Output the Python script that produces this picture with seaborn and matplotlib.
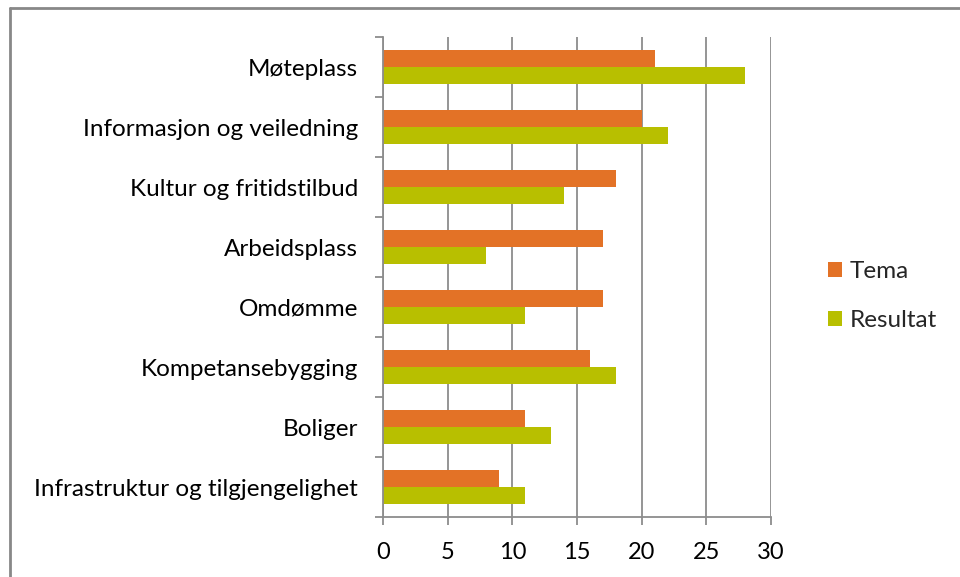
import pandas as pd
import seaborn as sns
import matplotlib.pyplot as plt
from matplotlib.lines import Line2D
from matplotlib.patches import Patch

categories = ["Møteplass", "Informasjon og veiledning", "Kultur og fritidstilbud",
              "Arbeidsplass", "Omdømme", "Kompetansebygging", "Boliger",
              "Infrastruktur og tilgjengelighet"]
tema = [21, 20, 18, 17, 17, 16, 11, 9]
resultat = [28, 22, 14, 8, 11, 18, 13, 11]
series = ["Tema", "Resultat"]
colors = ["#E37226", "#B8BF00"]

df = pd.DataFrame({
    "kategori": categories * 2,
    "verdi": tema + resultat,
    "serie": ["Tema"] * len(categories) + ["Resultat"] * len(categories),
})

sns.set_style("white")
plt.rcParams['font.family'] = ['Lato', 'DejaVu Sans']

fig = plt.figure(figsize=(9.6, 5.77), dpi=100)
ax = fig.add_axes([383 / 960, 1 - 517 / 577, (771 - 383) / 960, (517 - 37) / 577])

sns.barplot(data=df, x="verdi", y="kategori", hue="serie", orient="h",
            palette=colors, width=0.57, gap=0, order=categories,
            hue_order=series, ax=ax, legend=False, saturation=1,
            edgecolor="none")

ax.set_xlim(0, 30)
ax.set_ylim(len(categories) - 0.5, -0.5)
ax.set_xticks(range(0, 31, 5))
ax.set_xlabel("")
ax.set_ylabel("")
ax.grid(axis="x", color="#8c8c8c", linewidth=1.3)
ax.set_axisbelow(True)
for side in ["top", "right"]:
    ax.spines[side].set_visible(False)
for side in ["left", "bottom"]:
    ax.spines[side].set_color("#8c8c8c")
    ax.spines[side].set_linewidth(1.3)

ax.tick_params(axis="x", length=6, width=1.3, color="#8c8c8c", labelsize=17,
               pad=12, labelcolor="black", direction="out", bottom=True)
ax.tick_params(axis="y", which="major", length=0, labelsize=17.5, pad=18,
               labelcolor="black")
ax.set_yticks([i - 0.5 for i in range(len(categories) + 1)], minor=True)
ax.tick_params(axis="y", which="minor", length=6, width=1.3, color="#8c8c8c",
               direction="out", left=True)

handles = [Patch(facecolor=c, edgecolor="none") for c in colors]
fig.legend(handles, series, loc="center left", bbox_to_anchor=(806 / 960, 1 - 296 / 577),
           frameon=False, fontsize=17.5, handlelength=0.6, handleheight=0.6,
           handletextpad=0.3, labelspacing=1.15)

fig.add_artist(Line2D([10 / 960, 1], [1 - 8 / 577, 1 - 8 / 577], color="#888888", linewidth=2))
fig.add_artist(Line2D([10 / 960, 10 / 960], [0, 1 - 8 / 577], color="#888888", linewidth=2))

fig.savefig("out.png", dpi=100)
